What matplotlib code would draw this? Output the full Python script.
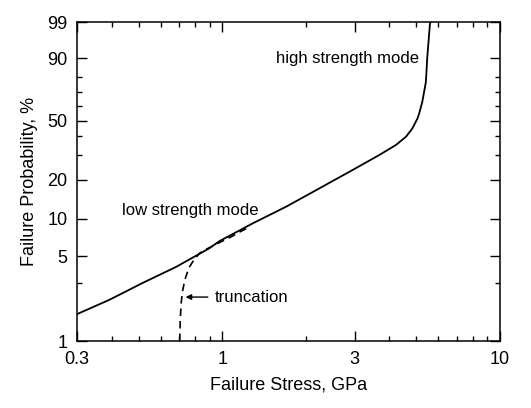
import numpy as np
import matplotlib
matplotlib.use('Agg')
import matplotlib.pyplot as plt
import matplotlib.ticker as mticker

# ── data ─────────────────────────────────────────────────────────
# solid curve: bimodal strength distribution (stress in GPa, probability in %)
stress_solid = [0.30, 0.392, 0.517, 0.680, 0.896, 0.979, 1.289, 1.70, 2.239, 2.949, 3.678,
                4.22, 4.59, 4.84, 5.05, 5.12, 5.25, 5.41, 5.47, 5.59, 5.62]
prob_solid = [1.67, 2.19, 3.02, 4.07, 5.77, 6.63, 9.19, 12.43, 17.2, 23.55, 30.1,
              35.2, 39.9, 45.0, 51.6, 55.0, 62.9, 76.7, 90.0, 98.7, 99.0]

# dashed curve: truncated low strength mode
stress_trunc = [0.703, 0.706, 0.712, 0.721, 0.733, 0.758, 0.790, 0.830, 0.879,
                0.932, 0.995, 1.081, 1.174, 1.255]
prob_trunc = [1.0, 1.49, 2.10, 2.64, 3.19, 4.0, 4.65, 5.30, 5.71,
              6.10, 6.57, 7.2, 7.98, 8.59]

x_major = [0.3, 1, 3, 10]
x_major_labels = ['0.3', '1', '3', '10']
x_minor = [0.4, 0.5, 0.6, 0.7, 0.8, 0.9, 2, 4, 5, 6, 7, 8, 9]
y_major = [1, 5, 10, 20, 50, 90, 99]
y_major_labels = ['1', '5', '10', '20', '50', '90', '99']
y_minor = [3, 30, 40, 60, 70, 80]


# Weibull probability scale
def weib(p):
    p = np.clip(np.asarray(p, dtype=float), 1e-6, 100 - 1e-6)
    return np.log(-np.log(1 - p / 100.0))


def weib_inv(w):
    return 100.0 * (1 - np.exp(-np.exp(w)))


plt.rcParams['font.family'] = ['Liberation Sans', 'DejaVu Sans']
plt.rcParams['font.size'] = 13

fig = plt.figure(figsize=(5.31, 4.08), dpi=100)
ax = fig.add_axes([77 / 531, 1 - 341 / 408, 423 / 531, 319 / 408])

ax.set_xscale('log')
ax.set_yscale('function', functions=(weib, weib_inv))

ax.plot(stress_solid, prob_solid, color='black', lw=1.3, solid_joinstyle='round')
ax.plot(stress_trunc, prob_trunc, color='black', lw=1.2, linestyle=(0, (4.5, 3)))

ax.set_xlim(0.3, 10)
ax.set_ylim(1, 99)

ax.xaxis.set_major_locator(mticker.FixedLocator(x_major))
ax.xaxis.set_major_formatter(mticker.FixedFormatter(x_major_labels))
ax.xaxis.set_minor_locator(mticker.FixedLocator(x_minor))
ax.xaxis.set_minor_formatter(mticker.NullFormatter())
ax.yaxis.set_major_locator(mticker.FixedLocator(y_major))
ax.yaxis.set_major_formatter(mticker.FixedFormatter(y_major_labels))
ax.yaxis.set_minor_locator(mticker.FixedLocator(y_minor))
ax.yaxis.set_minor_formatter(mticker.NullFormatter())

ax.tick_params(which='both', direction='in', top=True, right=True, width=1.0)
ax.tick_params(which='major', length=7, pad=7, labelsize=13)
ax.tick_params(which='minor', length=3.5)
for s in ax.spines.values():
    s.set_linewidth(1.1)

ax.set_xlabel('Failure Stress, GPa', fontsize=13)
ax.set_ylabel('Failure Probability, %', fontsize=13)
ax.xaxis.set_label_coords(0.5, -0.11)
ax.yaxis.set_label_coords(-0.092, 0.5)

ax.text(5.12, 89.6, 'high strength mode', ha='right', va='center', fontsize=12)
ax.text(0.764, 11.7, 'low strength mode', ha='center', va='center', fontsize=12)
ax.annotate('', xy=(0.738, 2.31), xytext=(0.887, 2.31),
            arrowprops=dict(arrowstyle='-|>', color='black', lw=1.0,
                            mutation_scale=8, shrinkA=0, shrinkB=0))
ax.text(0.94, 2.31, 'truncation', ha='left', va='center', fontsize=12)

plt.savefig('out.png', dpi=100)
